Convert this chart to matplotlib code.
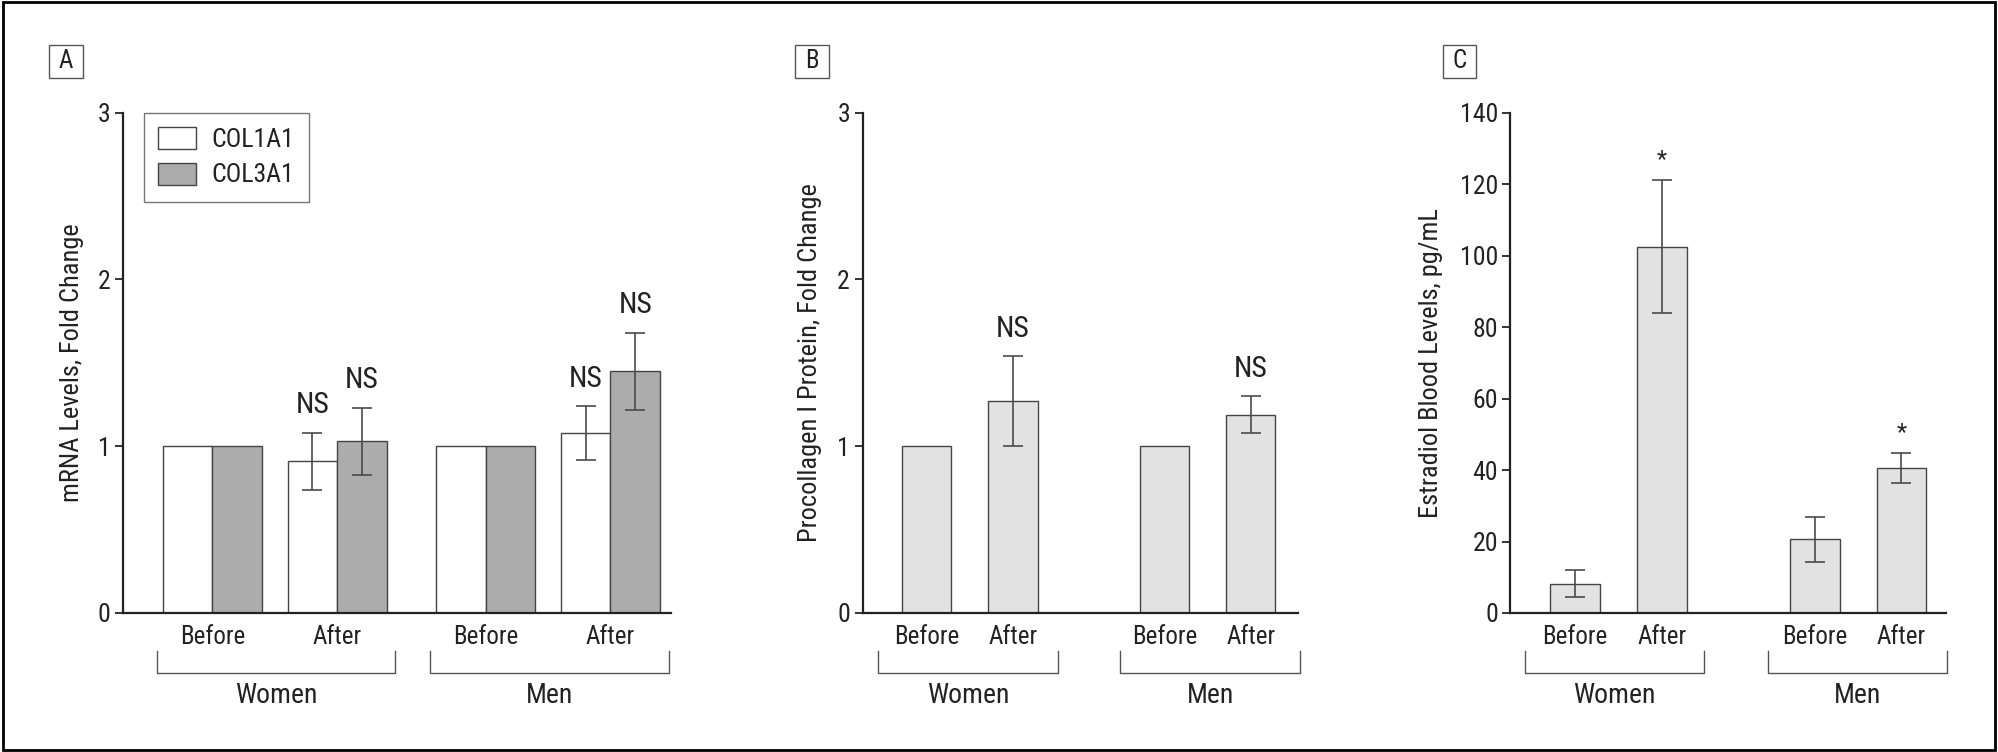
import matplotlib
matplotlib.use("Agg")
import matplotlib.pyplot as plt
from matplotlib.patches import Rectangle

plt.rcParams['font.family'] = ['Roboto Condensed', 'DejaVu Sans']

# data
groups = ['Before', 'After', 'Before', 'After']
sexes = ['Women', 'Men']

col1a1 = [1.0, 0.91, 1.0, 1.08]
col1a1_err = [0, 0.17, 0, 0.16]
col3a1 = [1.0, 1.03, 1.0, 1.45]
col3a1_err = [0, 0.20, 0, 0.23]

procollagen = [1.0, 1.27, 1.0, 1.19]
procollagen_err = [0, 0.27, 0, 0.11]

estradiol = [8.2, 102.5, 20.6, 40.7]
estradiol_err = [3.7, 18.6, 6.4, 4.2]

marks_a1 = ['', 'NS', '', 'NS']
marks_a3 = ['', 'NS', '', 'NS']
marks_b = ['', 'NS', '', 'NS']
marks_c = ['', '*', '', '*']

W, H = 1998, 752
TXT = '#222222'
EDGE = '#444444'
ERR = '#4a4a4a'

fig = plt.figure(figsize=(W / 100, H / 100), dpi=100)
fig.add_artist(Rectangle((0.0015, 0.002), 0.997, 0.996, transform=fig.transFigure,
                         fill=False, edgecolor='black', linewidth=2))


def px_axes(x0, x1, ytop=112.7, ybot=613):
    return fig.add_axes([x0 / W, 1 - ybot / H, (x1 - x0) / W, (ybot - ytop) / H])


def panel_label(txt, x0, x1, y0=44.6, y1=77.7):
    fig.add_artist(Rectangle((x0 / W, 1 - y1 / H), (x1 - x0) / W, (y1 - y0) / H,
                             transform=fig.transFigure, fill=False,
                             edgecolor='#555555', linewidth=1))
    fig.text((x0 + x1) / 2 / W, 1 - (y0 + y1) / 2 / H, txt, ha='center', va='center',
             fontsize=18, color=TXT)


def style(ax, ylim, yticks, ylabel, labx, centers, xlim, brackets):
    ax.set_xlim(*xlim)
    ax.set_ylim(*ylim)
    ax.set_yticks(yticks)
    ax.spines['top'].set_visible(False)
    ax.spines['right'].set_visible(False)
    for s in ['left', 'bottom']:
        ax.spines[s].set_linewidth(1.6)
        ax.spines[s].set_color('#222222')
    ax.tick_params(axis='y', length=6, width=1.3, color='#222222', labelsize=18.5,
                   labelcolor=TXT, pad=3)
    ax.set_xticks(centers, groups)
    ax.tick_params(axis='x', length=0, labelsize=18, labelcolor=TXT, pad=9)
    ax.set_ylabel(ylabel, fontsize=19, color=TXT)
    ax.yaxis.set_label_coords(labx, 0.5)
    tr = ax.get_xaxis_transform()
    for (b0, b1), sx in zip(brackets, sexes):
        ax.plot([b0, b0, b1, b1], [-0.076, -0.12, -0.12, -0.076], transform=tr,
                color='#555555', linewidth=1, clip_on=False)
        ax.text((b0 + b1) / 2, -0.165, sx, transform=tr, ha='center', va='center',
                fontsize=20, color=TXT)


def bars(ax, xs, vals, errs, marks, color, width=1.0, star=False):
    ax.bar(xs, vals, width, color=color, edgecolor=EDGE, linewidth=1, zorder=2)
    for x, v, e, m in zip(xs, vals, errs, marks):
        if e > 0:
            ax.errorbar(x, v, yerr=e, color=ERR, linewidth=1.2, capsize=7,
                        capthick=1.2, zorder=3)
        if m:
            if star:
                ax.annotate(m, (x, v + e), xytext=(0, 10), textcoords='offset points',
                            ha='center', va='baseline', fontsize=17, color=TXT)
            else:
                ax.annotate(m, (x, v + e), xytext=(0, 14), textcoords='offset points',
                            ha='center', va='baseline', fontsize=21.5, color=TXT)


# Panel A
axA = px_axes(123, 671)
centers_a = [1.8, 4.32, 7.31, 9.83]
bars(axA, [c - 0.5 for c in centers_a], col1a1, col1a1_err, marks_a1, 'white')
bars(axA, [c + 0.5 for c in centers_a], col3a1, col3a1_err, marks_a3, '#acacac')
style(axA, (0, 3), [0, 1, 2, 3], 'mRNA Levels, Fold Change', -0.071,
      centers_a, (0, 11.05), [(0.68, 5.48), (6.2, 11.0)])
axA.bar([0], [0], color='white', edgecolor=EDGE, linewidth=1, label='COL1A1')
axA.bar([0], [0], color='#acacac', edgecolor=EDGE, linewidth=1, label='COL3A1')
leg = axA.legend(loc='upper left', bbox_to_anchor=((143.5 - 123) / 548, 1.0),
                 borderaxespad=0, fontsize=18.5, frameon=True, fancybox=False,
                 handlelength=1.5, handleheight=0.95, handletextpad=0.6,
                 labelspacing=0.42, borderpad=0.55)
leg.get_frame().set_edgecolor('#555555')
leg.get_frame().set_linewidth(1)
for t in leg.get_texts():
    t.set_color(TXT)
panel_label('A', 49, 82.6)

# Panel B
axB = px_axes(862.5, 1297.8)
centers_bc = [1.31, 3.07, 6.17, 7.92]
bars(axB, centers_bc, procollagen, procollagen_err, marks_b, '#e2e2e2')
style(axB, (0, 3), [0, 1, 2, 3], 'Procollagen I Protein, Fold Change', -0.092,
      centers_bc, (0, 8.88), [(0.32, 3.99), (5.26, 8.92)])
panel_label('B', 794.5, 828.5)

# Panel C
axC = px_axes(1510.3, 1945.9)
bars(axC, centers_bc, estradiol, estradiol_err, marks_c, '#e2e2e2', star=True)
style(axC, (0, 140), list(range(0, 141, 20)), 'Estradiol Blood Levels, pg/mL', -0.154,
      centers_bc, (0, 8.82), [(0.29, 3.92), (5.22, 8.85)])
panel_label('C', 1443, 1476)

fig.savefig('out.png', dpi=100)
